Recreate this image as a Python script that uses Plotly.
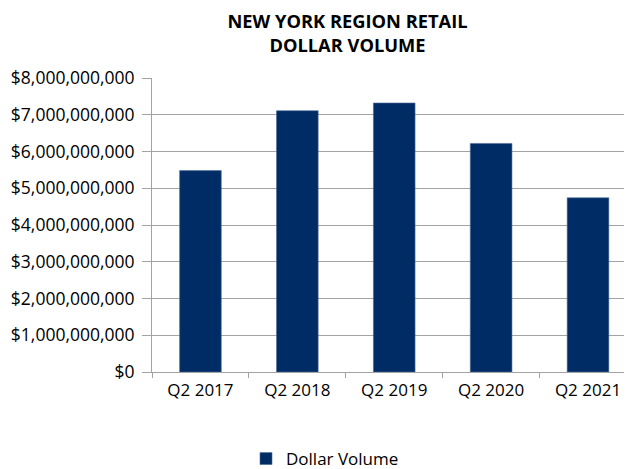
import plotly.graph_objects as go

categories = ["Q2 2017", "Q2 2018", "Q2 2019", "Q2 2020", "Q2 2021"]
dollar_volume = [5.48e9, 7.11e9, 7.32e9, 6.22e9, 4.74e9]
y_ticks = [0, 1e9, 2e9, 3e9, 4e9, 5e9, 6e9, 7e9, 8e9]
y_ticktext = ["$" + format(int(v), ",") for v in y_ticks]

FONT = "Open Sans"
GRID = "#a3a3a3"
# page body adds an 8px margin, so the figure is laid out 8px smaller
W, H = 624, 461

fig = go.Figure()
fig.add_trace(go.Bar(
    x=categories,
    y=dollar_volume,
    name="Dollar Volume",
    width=0.43,
    marker=dict(color="#002c66", line=dict(color="#4d6b99", width=0.6)),
    showlegend=True,
))

fig.update_layout(
    width=W, height=H,
    margin=dict(l=144, r=0, t=70, b=97, autoexpand=False),
    paper_bgcolor="white", plot_bgcolor="white",
    font=dict(family=FONT, size=17, color="#000000"),
    title=dict(
        text="<b>NEW YORK REGION RETAIL<br>DOLLAR VOLUME</b>",
        x=339.5/W, xref="container", xanchor="center",
        y=1 - 20/H, yref="container", yanchor="middle",
        font=dict(family=FONT, size=18.3, color="#000000"),
    ),
    showlegend=True,
    legend=dict(
        orientation="h",
        x=317/W, xref="container", xanchor="center",
        y=10/H, yref="container", yanchor="middle",
        font=dict(family=FONT, size=17, color="#000000"),
        itemwidth=30,
    ),
)

fig.update_xaxes(
    type="category",
    range=[-0.5, 4.454],
    showline=True, linecolor=GRID, linewidth=1,
    ticks="outside", tickson="boundaries", ticklen=5, tickcolor=GRID,
    ticklabelstandoff=3,
    showgrid=False,
    tickfont=dict(family=FONT, size=17, color="#000000"),
)
fig.update_yaxes(
    range=[0, 8e9],
    tickvals=y_ticks,
    ticktext=y_ticktext,
    showline=True, linecolor=GRID, linewidth=1,
    ticks="outside", ticklen=9, tickcolor=GRID,
    ticklabelstandoff=4,
    showgrid=True, gridcolor=GRID, gridwidth=1,
    zeroline=False,
    tickfont=dict(family=FONT, size=17.5, color="#000000"),
)

fig.write_html("out.html")
